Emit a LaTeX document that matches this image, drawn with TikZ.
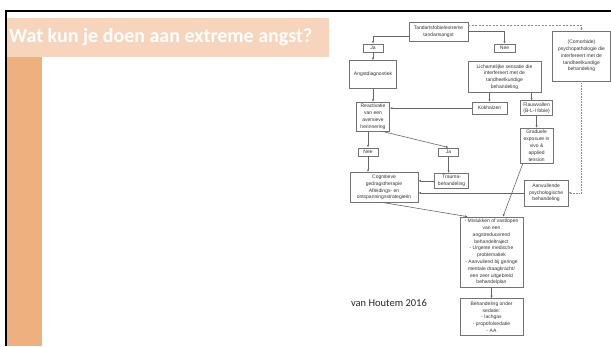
\documentclass[tikz,border=0pt]{standalone}
\usepackage{fontspec}
\usepackage{xcolor}
\usepackage{tikz}
\usetikzlibrary{arrows.meta, positioning}
\newfontfamily\titlefont{Carlito}
\newfontfamily\flowfont{Liberation Sans}
\newcommand{\boxtext}{\flowfont\fontsize{5}{6.8}\selectfont}
\definecolor{titleband}{HTML}{F7D5BC}
\definecolor{sidebar}{HTML}{EDB07E}

\begin{document}
\begin{tikzpicture}[
  x=1pt, y=-1pt,
  node distance=8pt,
  block/.style={draw=black!55, line width=0.6pt, fill=white, font=\boxtext, text=black!80, align=center, inner sep=1pt},
  tag/.style={block, minimum width=20pt, minimum height=8pt},
  arrow/.style={-{Latex[length=2.6pt,width=2.2pt]}, line width=0.6pt, color=black!60},
  link/.style={arrow, dash pattern=on 2pt off 1.5pt, color=black!45}
]
  \useasboundingbox (0,0) rectangle (611,346);
  \fill[titleband] (7,18) rectangle (329,57.3);
  \fill[sidebar] (7,57.3) rectangle (42,346);
  \draw[line width=2pt] (5,10.5) -- (611,10.5);
  \draw[line width=2pt] (6,10) -- (6,346);
  \node[anchor=west, inner sep=0pt, font=\titlefont\fontsize{20}{24}\selectfont\bfseries, text=white] (titel) at (9,37.5) {Wat kun je doen aan extreme angst?};

  \node[block, minimum width=59pt, minimum height=19pt] (fobie) at (438.5,31.5) {Tandartsfobie/extreme\\tandartsangst};
  \node[tag] (ja1) at (373,48) {Ja};
  \node[block, below=8pt of ja1, minimum width=47pt, minimum height=28pt] (diag) {Angstdiagnostiek};
  \node[block, below=13pt of diag, minimum width=33pt, minimum height=29pt] (react) {Reactivatie\\van een\\aversieve\\herinnering};
  \node[tag, below=16pt of react, xshift=-5pt] (nee1) {Nee};
  \node[tag, right=60pt of nee1] (ja2) {Ja};
  \node[block, below=16pt of nee1, xshift=16pt, minimum width=68pt, minimum height=30pt] (cgt) {Cognitieve\\gedragstherapie\\Afleidings- en\\ontspanningsstrategie\"en};
  \node[block, below=17pt of ja2, xshift=3pt, minimum width=34pt, minimum height=15pt] (trauma) {Trauma-\\behandeling};

  \node[tag, minimum width=21pt] (nee2) at (504.5,48) {Nee};
  \node[block, below=9pt of nee2, minimum width=73pt, minimum height=31pt] (sensatie) {Lichamelijke sensatie die\\interfereert met de\\tandheelkundige\\behandeling};
  \node[block, below=9pt of sensatie, xshift=-15pt, minimum width=35pt, minimum height=12pt] (kokh) {Kokhalzen};
  \node[block, right=13pt of kokh, minimum width=32pt, minimum height=15pt] (flauw) {Flauwvallen\\(B-L-I fobie)};
  \node[block, below=12pt of flauw, minimum width=33pt, minimum height=35pt] (expo) {Graduele\\exposure in\\vivo \&\\applied\\tension};
  \node[block, below=16pt of expo, xshift=9.5pt, minimum width=44pt, minimum height=26pt] (aanv) {Aanvullende\\psychologische\\behandeling};
  \node[block, minimum width=58pt, minimum height=50pt] (comorb) at (581.5,56) {(Comorbide)\\psychopathologie die\\interfereert met de\\tandheelkundige\\behandeling};

  \node[block, minimum width=63pt, minimum height=70pt] (misl) at (491.5,252) {- Mislukken of vastlopen\\van een\\angstreducerend\\behandeltraject\\- Urgente medische\\problematiek\\- Aanvullend bij geringe\\mentale draagkracht/\\een zeer uitgebreid\\behandelplan};
  \node[block, below=11pt of misl, minimum width=63pt, minimum height=37pt] (sedatie) {Behandeling onder\\sedatie:\\- lachgas\\- propofolsedatie\\- AA};
  \node[font=\titlefont\fontsize{10.5}{12}\selectfont, text=black!85] (bron) at (389,303) {van Houtem 2016};

  \draw[arrow] ([yshift=-4.5pt]fobie.west) -| (ja1.north);
  \draw[arrow] (fobie.east) -| (nee2.north);
  \draw[link] ([yshift=6.5pt]fobie.east) -| (comorb.north);
  \draw[arrow] (ja1) -- (diag);
  \draw[arrow] (diag) -- (react);
  \draw[arrow] (nee1.north |- react.south) -- (nee1.north);
  \draw[arrow] ([xshift=-7pt]react.south east) -- (ja2.north);
  \draw[arrow] (nee1) -- (nee1 |- cgt.north);
  \draw[arrow] (ja2) -- (ja2 |- trauma.north);
  \draw[arrow] (trauma.west) -- (trauma.west -| cgt.east);
  \draw[arrow] (kokh.west) -- (kokh.west -| react.east);
  \draw[arrow] (kokh.north |- sensatie.south) -- (kokh.north);
  \draw[arrow] ([xshift=-5pt]flauw.north |- sensatie.south) -- ([xshift=-5pt]flauw.north);
  \draw[arrow] (flauw) -- (expo);
  \draw[arrow] ([xshift=3pt]expo.south west) -- ([xshift=11.5pt]misl.north);
  \draw[arrow] (aanv.west) -- (aanv.west -| cgt.east);
  \draw[arrow, densely dotted, color=black!45] (comorb.south) |- (aanv.east);
  \draw[arrow] (cgt.south) -- ([xshift=8pt]misl.north west);
  \draw[arrow] (misl) -- (sedatie);
\end{tikzpicture}
\end{document}
